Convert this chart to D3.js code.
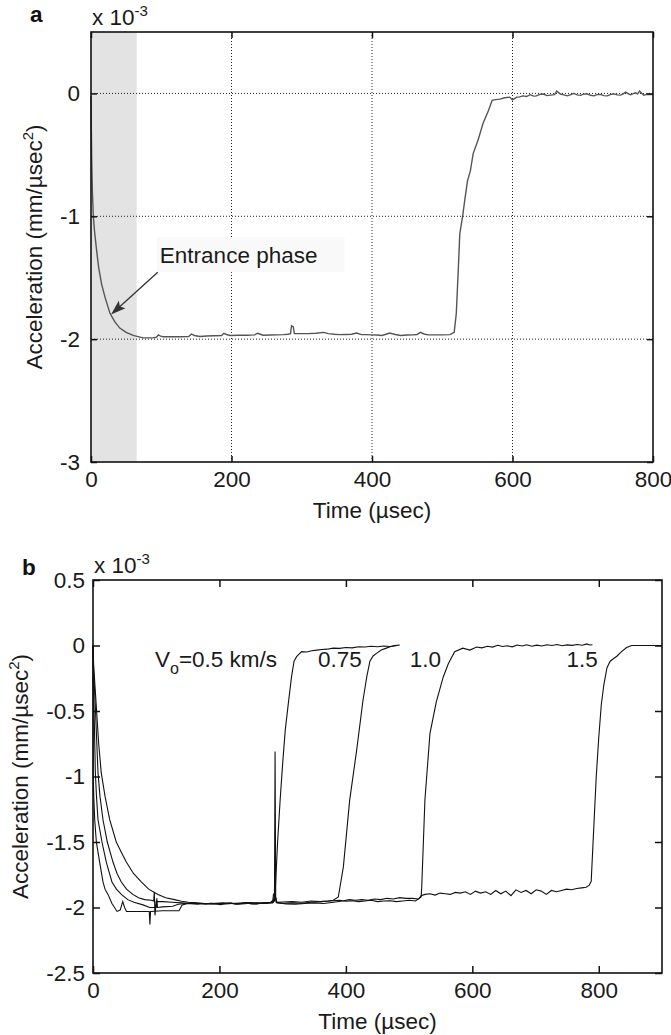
<!DOCTYPE html>
<html>
<head>
<meta charset="utf-8">
<script src="https://cdn.jsdelivr.net/npm/d3@7"></script>
<style>
  body { margin: 0; background: #fff; }
  text { font-family: "Liberation Sans", Arial, Helvetica, sans-serif; }
</style>
</head>
<body>
<svg id="chart" width="671" height="1035"></svg>
<script>
// values are in units of 1e-3 mm/usec^2, time in usec

// panel a: single run (gray trace)
const aSeries = [
  [0,-0.02],[0.5,-0.3],[1,-0.54],[2,-0.8],[3.3,-1.0],[5,-1.12],[8,-1.28],[11,-1.42],[15,-1.55],
  [20,-1.66],[27,-1.79],[34,-1.86],[41,-1.91],[50,-1.945],[60,-1.97],[67,-1.98],[74,-1.99],
  [80,-1.99],[88,-1.99],[93,-1.985],[96,-1.965],[99,-1.975],[103,-1.98],[115,-1.98],[127,-1.98],
  [139,-1.978],[143,-1.958],[147,-1.97],[155,-1.978],[165,-1.975],[175,-1.972],[186,-1.97],
  [189,-1.952],[193,-1.962],[198,-1.97],[210,-1.968],[222,-1.968],[233,-1.965],[237,-1.952],
  [241,-1.96],[245,-1.968],[255,-1.966],[265,-1.965],[274,-1.963],[280,-1.96],[284,-1.955],
  [285.5,-1.89],[288,-1.9],[289.5,-1.955],[291,-1.955],[300,-1.955],[309,-1.955],[320,-1.952],
  [331,-1.945],[338,-1.955],[346,-1.96],[354,-1.963],[362,-1.962],[371,-1.96],[378,-1.95],
  [385,-1.963],[392,-1.963],[399,-1.965],[407,-1.966],[414,-1.97],[420,-1.96],[425,-1.95],
  [433,-1.962],[441,-1.97],[450,-1.966],[458,-1.965],[464,-1.962],[469,-1.945],[474,-1.958],
  [480,-1.965],[490,-1.965],[500,-1.965],[511,-1.963],[517,-1.945],[520,-1.79],[523,-1.41],
  [525,-1.14],[529,-1.0],[532,-0.87],[536,-0.71],[540,-0.63],[544,-0.49],[551,-0.38],
  [558,-0.245],[566,-0.137],[571,-0.056],[576,-0.05],[582,-0.046],[589,-0.035],[596,-0.03],
  [600,-0.052],[606,-0.03],[610,-0.028],[615,-0.02],[620,-0.025],[625,-0.01],[630,-0.022],
  [634,-0.02],[639,-0.008],[644,-0.005],[649,-0.018],[654,-0.014],[660,-0.01],[663,0.02],
  [668,-0.005],[673,-0.012],[678,-0.02],[683,-0.01],[687,0.0],[692,-0.012],[697,-0.016],
  [701,-0.006],[706,-0.003],[711,-0.015],[716,-0.02],[720,-0.01],[725,-0.008],[730,-0.018],
  [735,-0.02],[739,-0.01],[744,-0.003],[749,-0.012],[754,-0.014],[758,-0.002],[761,0.01],
  [765,-0.004],[768,-0.01],[772,-0.002],[775,0.005],[778,-0.004],[781,0.02],[784,0.002],
  [787,-0.014],[790,-0.01],[794,-0.008],[797,-0.01],[800,-0.008]
]
const aShade = [0, 65]
const aXTicks = [0, 200, 400, 600, 800]
const aYTicks = [-3, -2, -1, 0]
const aNote = "Entrance phase"

// panel b: four impact velocities
const b05 = [
  [0,0],[1,-0.15],[3,-0.3],[5.3,-0.47],[9,-0.75],[13,-0.97],[19,-1.15],[26.4,-1.33],[36.8,-1.5],
  [45,-1.58],[52.7,-1.653],[64,-1.74],[76.4,-1.805],[88,-1.86],[102.8,-1.9],[115,-1.925],
  [129,-1.94],[140,-1.952],[151,-1.96],[160,-1.965],[170,-1.97],[178,-1.975],[186,-1.968],
  [194,-1.972],[202,-1.978],[210,-1.97],[218,-1.965],[226,-1.975],[234,-1.97],[242,-1.962],
  [250,-1.972],[258,-1.975],[266,-1.968],[274,-1.965],[281,-1.96],[286,-1.94],[288,-1.9],
  [290,-1.7],[292,-1.5],[296,-1.18],[300,-0.9],[304,-0.65],[309,-0.44],[314,-0.24],[318,-0.12],
  [322,-0.085],[330,-0.047],[338,-0.05],[346,-0.04],[354,-0.035],[362,-0.03],[370,-0.028],
  [380,-0.02],[390,-0.022],[400,-0.015],[410,-0.018],[420,-0.01],[430,-0.012],[440,-0.006],
  [450,-0.01],[460,-0.004],[470,-0.008],[480,-0.002]
]
const b075 = [
  [0,0],[1,-0.2],[3.7,-0.47],[7.9,-0.97],[11,-1.15],[15.8,-1.33],[22.6,-1.5],[31.6,-1.653],
  [38,-1.74],[44.8,-1.805],[53,-1.86],[63,-1.9],[72,-1.925],[82,-1.94],[92,-1.945],[96,-1.95],
  [97,-1.88],[98,-2.06],[100,-1.955],[110,-1.955],[125,-1.96],[140,-1.965],[155,-1.97],
  [170,-1.968],[185,-1.972],[200,-1.97],[215,-1.968],[230,-1.975],[245,-1.97],[260,-1.965],
  [275,-1.968],[284,-1.965],[287,-1.95],[288,-0.81],[289,-1.92],[291,-1.965],[300,-1.97],
  [315,-1.965],[330,-1.968],[345,-1.96],[360,-1.955],[372,-1.95],[380,-1.945],[388,-1.92],
  [396,-1.69],[406,-1.18],[417,-0.8],[427,-0.42],[433,-0.24],[438,-0.12],[443,-0.08],
  [448.5,-0.06],[456,-0.035],[464,-0.02],[470,-0.01],[477,0.0],[485,0.003]
]
const b10 = [
  [0,0],[0.5,-0.3],[1.6,-0.47],[3.7,-0.97],[5.5,-1.15],[7.9,-1.33],[14.2,-1.5],[21,-1.653],
  [30,-1.805],[37,-1.86],[44.8,-1.9],[55,-1.94],[65,-1.96],[79,-1.98],[90,-2.0],[100,-2.0],
  [101,-1.93],[102,-2.0],[110,-1.995],[126,-1.99],[135,-1.975],[145,-1.97],[160,-1.965],
  [175,-1.97],[190,-1.972],[205,-1.965],[220,-1.97],[235,-1.968],[250,-1.962],[265,-1.97],
  [278,-1.965],[284,-1.96],[285.5,-1.9],[288,-1.92],[290,-1.96],[300,-1.958],[315,-1.955],
  [330,-1.96],[345,-1.95],[360,-1.955],[375,-1.95],[390,-1.945],[400,-1.952],[410,-1.948],
  [420,-1.955],[430,-1.95],[440,-1.945],[450,-1.955],[460,-1.95],[470,-1.948],[480,-1.955],
  [490,-1.95],[500,-1.945],[510,-1.95],[516,-1.93],[519,-1.92],[520,-1.84],[525,-1.18],
  [533,-0.67],[543,-0.43],[554,-0.24],[562,-0.14],[572,-0.047],[585,-0.02],[596,-0.035],
  [607,-0.012],[615,-0.018],[624,-0.006],[632,-0.012],[640,0.002],[648,-0.008],[655,-0.002],
  [663,-0.01],[671,0.004],[679,-0.004],[686,0.006],[694,-0.006],[702,0.003],[710,-0.004],
  [718,0.006],[726,0.0],[734,0.007],[742,-0.002],[750,0.005],[758,0.001],[766,0.008],
  [774,0.002],[781,0.012],[786,0.004],[790,0.006]
]
const b15 = [
  [0,0],[0.3,-0.97],[1.2,-1.15],[2.7,-1.33],[5.3,-1.5],[10.5,-1.653],[15.8,-1.805],[19,-1.86],
  [23.7,-1.9],[30,-1.97],[38,-2.03],[43,-2.02],[47,-1.955],[50,-2.0],[53,-2.03],[70,-2.03],
  [89,-2.03],[90,-2.13],[91,-2.03],[110,-2.025],[136,-2.025],[141,-1.98],[150,-1.97],
  [165,-1.975],[180,-1.97],[195,-1.968],[210,-1.972],[225,-1.968],[240,-1.965],[255,-1.97],
  [270,-1.965],[285,-1.96],[288,-1.9],[290,-1.96],[305,-1.972],[320,-1.975],[335,-1.97],
  [350,-1.965],[365,-1.97],[380,-1.96],[395,-1.95],[405,-1.94],[415,-1.945],[425,-1.94],
  [435,-1.945],[445,-1.935],[455,-1.94],[465,-1.93],[475,-1.935],[485,-1.925],[495,-1.93],
  [505,-1.93],[515,-1.935],[519,-1.91],[525,-1.9],[533,-1.895],[541,-1.905],[549,-1.89],
  [557,-1.895],[565,-1.9],[573,-1.885],[581,-1.89],[589,-1.88],[597,-1.9],[605,-1.875],
  [613,-1.89],[621,-1.88],[629,-1.9],[637,-1.87],[645,-1.895],[653,-1.875],[661,-1.91],
  [669,-1.865],[677,-1.885],[685,-1.87],[693,-1.895],[701,-1.865],[709,-1.875],[717,-1.9],
  [725,-1.87],[733,-1.88],[741,-1.87],[749,-1.86],[757,-1.865],[765,-1.855],[773,-1.85],
  [780,-1.845],[785,-1.83],[788,-1.8],[792,-1.4],[796,-1.0],[800,-0.7],[804,-0.45],
  [808,-0.3],[813,-0.17],[818,-0.12],[822,-0.105],[829,-0.08],[836,-0.047],[844,-0.015],
  [852,0.0],[900,0.0]
]
const bSeries = [b05, b075, b10, b15]
const bXTicks = [0, 200, 400, 600, 800]
const bYTicks = [-2.5, -2, -1.5, -1, -0.5, 0, 0.5]
const bLabels = ["=0.5 km/s", "0.75", "1.0", "1.5"]

const svg = d3.select("#chart")
const FS = 22.5

function frameAxes(g, x, y, xTicks, yTicks, tickLen, yPad) {
  const [x0, x1] = x.range()
  const [y0, y1] = y.range()
  const bottom = g.append("g").attr("transform", `translate(0,${y0})`)
    .call(d3.axisBottom(x).tickValues(xTicks).tickSize(-tickLen).tickSizeOuter(0).tickPadding(9).tickFormat(d => String(d)))
  const top = g.append("g").attr("transform", `translate(0,${y1})`)
    .call(d3.axisTop(x).tickValues(xTicks).tickSize(-tickLen).tickSizeOuter(0).tickFormat(""))
  const left = g.append("g").attr("transform", `translate(${x0},0)`)
    .call(d3.axisLeft(y).tickValues(yTicks).tickSize(-tickLen).tickSizeOuter(0).tickPadding(yPad).tickFormat(d => String(d)))
  const right = g.append("g").attr("transform", `translate(${x1},0)`)
    .call(d3.axisRight(y).tickValues(yTicks).tickSize(-tickLen).tickSizeOuter(0).tickFormat(""))
  for (const a of [bottom, top, left, right]) {
    a.select(".domain").remove()
    a.attr("font-size", FS).attr("font-family", null)
    a.selectAll(".tick line").attr("stroke", "#111").attr("stroke-width", 1.5)
    a.selectAll(".tick text").attr("fill", "#1a1a1a")
  }
  g.append("rect")
    .attr("x", x0).attr("y", y1).attr("width", x1 - x0).attr("height", y0 - y1)
    .attr("fill", "none").attr("stroke", "#111").attr("stroke-width", 1.6)
}

function axisTitles(g, x, y, labelX, panelLetter, letterX, letterY) {
  const [x0, x1] = x.range()
  const [y0, y1] = y.range()
  g.append("text").attr("x", (x0 + x1) / 2).attr("y", y0 + 56)
    .attr("text-anchor", "middle").attr("font-size", FS).attr("fill", "#1a1a1a")
    .text("Time (\u00b5sec)")
  const yl = g.append("text")
    .attr("transform", `translate(${labelX},${(y0 + y1) / 2}) rotate(-90)`)
    .attr("text-anchor", "middle").attr("font-size", FS).attr("fill", "#1a1a1a")
  yl.append("tspan").text("Acceleration (mm/\u00b5sec")
  yl.append("tspan").attr("font-size", 15).attr("dy", -9).text("2")
  yl.append("tspan").attr("dy", 9).text(")")
  const ex = g.append("text").attr("x", x0 + 1).attr("y", y1 - 7)
    .attr("font-size", FS).attr("fill", "#1a1a1a")
  ex.append("tspan").text("x 10")
  ex.append("tspan").attr("font-size", 15).attr("dy", -9).text("-3")
  g.append("text").attr("x", letterX).attr("y", letterY)
    .attr("font-size", FS).attr("font-weight", "bold").attr("fill", "#111")
    .text(panelLetter)
}

// ---------- panel a ----------
const ga = svg.append("g")
const xa = d3.scaleLinear().domain([0, 800]).range([91, 653])
const ya = d3.scaleLinear().domain([-3, 0.5]).range([462, 32])

ga.append("rect")
  .attr("x", xa(aShade[0])).attr("y", ya(0.5))
  .attr("width", xa(aShade[1]) - xa(aShade[0])).attr("height", ya(-3) - ya(0.5))
  .attr("fill", "#e3e3e3")

// dotted grid
ga.selectAll("line.gx").data(aXTicks.slice(1, -1)).join("line")
  .attr("x1", d => xa(d)).attr("x2", d => xa(d)).attr("y1", ya(0.5)).attr("y2", ya(-3))
  .attr("stroke", "#222").attr("stroke-width", 1).attr("stroke-dasharray", "1,2")
ga.selectAll("line.gy").data(aYTicks.slice(1)).join("line")
  .attr("x1", xa(0)).attr("x2", xa(800)).attr("y1", d => ya(d)).attr("y2", d => ya(d))
  .attr("stroke", "#222").attr("stroke-width", 1).attr("stroke-dasharray", "1,2")

// note box (covers the grid behind the text)
ga.append("rect")
  .attr("x", xa(94)).attr("y", ya(-1.17))
  .attr("width", xa(361) - xa(94)).attr("height", ya(-1.455) - ya(-1.17))
  .attr("fill", "#f9f9f9")
ga.append("text").attr("x", xa(98)).attr("y", ya(-1.38))
  .attr("font-size", FS).attr("fill", "#1a1a1a").text(aNote)

const lineA = d3.line().x(d => xa(d[0])).y(d => ya(d[1]))
ga.append("path").datum(aSeries).attr("d", lineA)
  .attr("fill", "none").attr("stroke", "#555").attr("stroke-width", 1.4)

// arrow to the entrance part of the trace
const ax0 = xa(95), ay0 = ya(-1.455), ax1 = xa(28.5), ay1 = ya(-1.8)
const ang = Math.atan2(ay1 - ay0, ax1 - ax0)
ga.append("line").attr("x1", ax0).attr("y1", ay0)
  .attr("x2", ax1 - 8 * Math.cos(ang)).attr("y2", ay1 - 8 * Math.sin(ang))
  .attr("stroke", "#333").attr("stroke-width", 1.3)
const head = [[0, 0], [-15, -5], [-12, 0], [-15, 5]].map(([u, v]) =>
  [ax1 + u * Math.cos(ang) - v * Math.sin(ang), ay1 + u * Math.sin(ang) + v * Math.cos(ang)])
ga.append("path").attr("d", "M" + head.join("L") + "Z").attr("fill", "#333")

frameAxes(ga, xa, ya, aXTicks, aYTicks, 6, 11)
axisTitles(ga, xa, ya, 42, "a", 30, 22)

// ---------- panel b ----------
const gb = svg.append("g")
const xb = d3.scaleLinear().domain([0, 900]).range([93, 662])
const yb = d3.scaleLinear().domain([-2.5, 0.5]).range([973, 580])

const lineB = d3.line().x(d => xb(d[0])).y(d => yb(d[1]))
gb.selectAll("path.run").data(bSeries).join("path")
  .attr("class", "run").attr("d", lineB)
  .attr("fill", "none").attr("stroke", "#111").attr("stroke-width", 1.1)

// velocity labels
const lab0 = gb.append("text").attr("x", xb(98)).attr("y", yb(-0.165))
  .attr("font-size", FS).attr("fill", "#1a1a1a")
lab0.append("tspan").text("V")
lab0.append("tspan").attr("font-size", 16).attr("dy", 7).text("o")
lab0.append("tspan").attr("dy", -7).text(bLabels[0])
const labAt = [356, 501, 749]
bLabels.slice(1).forEach((s, i) => {
  gb.append("text").attr("x", xb(labAt[i])).attr("y", yb(-0.165))
    .attr("font-size", FS).attr("fill", "#1a1a1a").text(s)
})

frameAxes(gb, xb, yb, bXTicks, bYTicks, 7, 8)
axisTitles(gb, xb, yb, 28, "b", 22, 575)
</script>
</body>
</html>
